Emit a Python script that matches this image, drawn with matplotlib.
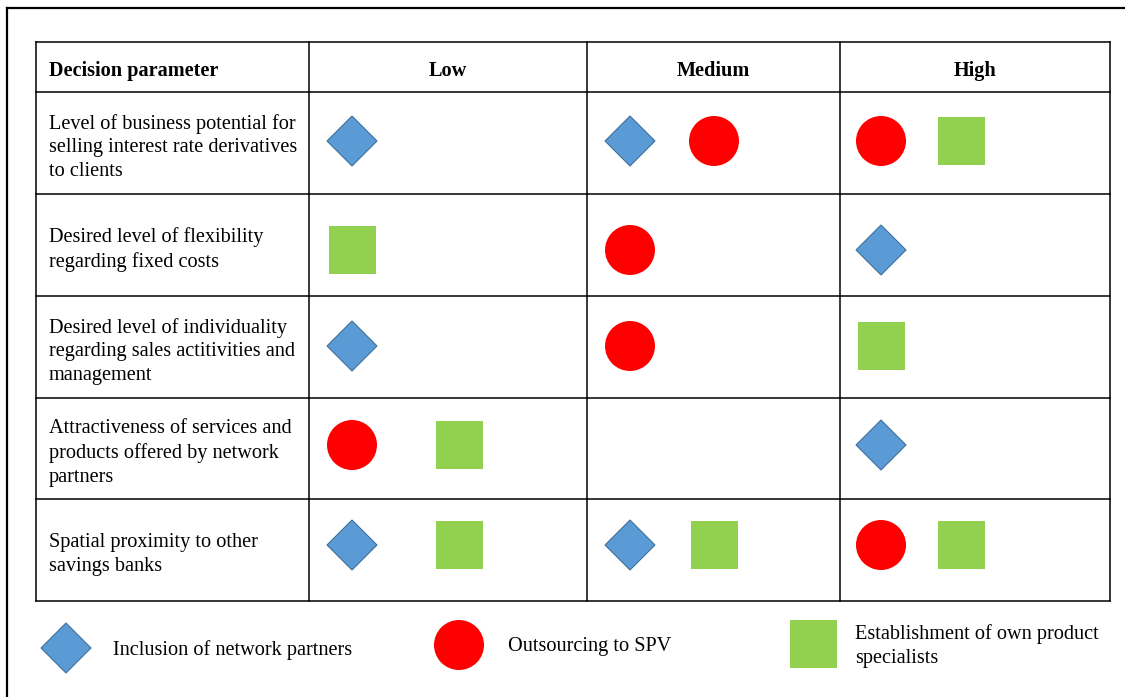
import matplotlib
matplotlib.use('Agg')
import matplotlib.pyplot as plt
from matplotlib.patches import Polygon, Circle, Rectangle

# --- data ---
params = [
    'Level of business potential for\nselling interest rate derivatives\nto clients',
    'Desired level of flexibility\nregarding fixed costs',
    'Desired level of individuality\nregarding sales actitivities and\nmanagement',
    'Attractiveness of services and\nproducts offered by network\npartners',
    'Spatial proximity to other\nsavings banks',
]
levels = ['Low', 'Medium', 'High']
cells_low = [['diamond'], ['square'], ['diamond'], ['circle', 'square'], ['diamond', 'square']]
cells_medium = [['diamond', 'circle'], ['circle'], ['circle'], [], ['diamond', 'square']]
cells_high = [['circle', 'square'], ['diamond'], ['square'], ['diamond'], ['circle', 'square']]
legend_labels = {
    'diamond': 'Inclusion of network partners',
    'circle': 'Outsourcing to SPV',
    'square': 'Establishment of own product\nspecialists',
}

# --- layout (pixels) ---
W, H = 1125, 697
col_x = [36, 309, 587, 840, 1110]
row_y = [42, 92, 194, 296, 398, 499, 601]
marker_y = [141, 250, 346, 445, 545]
slot_dx = [[43, 150], [43, 127], [41, 121]]
FONT = 'Liberation Serif'
FS = 14.6
LS = 1.34

fig = plt.figure(figsize=(W / 100, H / 100), dpi=100)
ax = fig.add_axes([0, 0, 1, 1])
ax.set_xlim(0, W)
ax.set_ylim(H, 0)
ax.axis('off')


def draw_symbol(kind, x, y):
    if kind == 'diamond':
        ax.add_patch(Polygon([[x - 25, y], [x, y - 25], [x + 25, y], [x, y + 25]],
                             closed=True, facecolor='#5B9BD5', edgecolor='#41719C', lw=0.8))
    elif kind == 'circle':
        ax.add_patch(Circle((x, y), 25, facecolor='#FF0000', edgecolor='none'))
    else:
        ax.add_patch(Rectangle((x - 23.5, y - 24), 47, 48, facecolor='#92D050', edgecolor='none'))


# outer frame (left + top only)
ax.plot([7, 7], [8, H], color='black', lw=1.6)
ax.plot([7, W], [8, 8], color='black', lw=1.6)

# table grid
for x in col_x:
    ax.plot([x, x], [row_y[0], row_y[-1]], color='black', lw=1.1)
for y in row_y:
    ax.plot([col_x[0], col_x[-1]], [y, y], color='black', lw=1.1)

# header
hy = (row_y[0] + row_y[1]) / 2 + 4
ax.text(49, hy, 'Decision parameter', fontsize=FS, fontweight='bold', family=FONT,
        ha='left', va='center')
for i, lev in enumerate(levels):
    ax.text((col_x[i + 1] + col_x[i + 2]) / 2, hy, lev, fontsize=FS, fontweight='bold',
            family=FONT, ha='center', va='center')

# rows
all_cells = [cells_low, cells_medium, cells_high]
for r, p in enumerate(params):
    cy = (row_y[r + 1] + row_y[r + 2]) / 2
    ax.text(49, cy + 4.5, p, fontsize=FS, family=FONT, ha='left', va='center', linespacing=LS)
    for c, cells in enumerate(all_cells):
        for s, kind in enumerate(cells[r]):
            draw_symbol(kind, col_x[c + 1] + slot_dx[c][s], marker_y[r])

# legend
leg_pos = {'diamond': (66, 648, 113), 'circle': (459, 645, 508), 'square': (813, 644, 855)}
for kind, (sx, sy, tx) in leg_pos.items():
    draw_symbol(kind, sx, sy)
    ax.text(tx, sy + 2, legend_labels[kind], fontsize=FS, family=FONT, ha='left', va='center',
            linespacing=LS)

fig.savefig('out.png', dpi=100)
